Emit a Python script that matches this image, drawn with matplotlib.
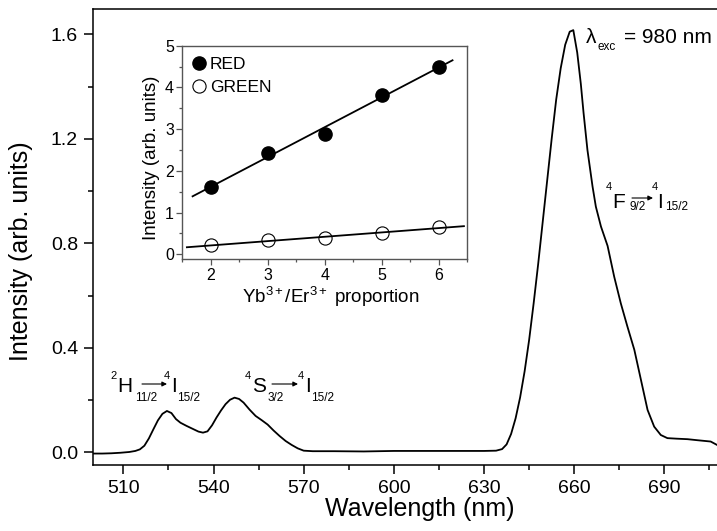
import numpy as np
import matplotlib
matplotlib.use("Agg")
import matplotlib.pyplot as plt
from matplotlib.ticker import MultipleLocator

plt.rcParams['font.family'] = ['Liberation Sans', 'DejaVu Sans']
plt.rcParams['mathtext.fontset'] = 'custom'
plt.rcParams['mathtext.rm'] = 'Liberation Sans'
plt.rcParams['mathtext.it'] = 'Liberation Sans:italic'
plt.rcParams['mathtext.bf'] = 'Liberation Sans:bold'

# espectro de upconversion
wavelength = [500, 503, 506, 509, 512, 514, 515.5, 517, 518.5, 520, 521.5, 523, 524.5,
              526, 527.5, 529, 531, 533, 535, 536.5, 538, 539.5, 541, 542.5, 544, 545.5,
              547, 548.5, 550, 552, 554, 556, 558, 560, 562, 564, 566, 568, 570, 573,
              580, 590, 600, 610, 620, 630, 634, 636, 637.5, 639, 640.5, 642, 643.5,
              645, 646.5, 648, 649.5, 651, 652.5, 654, 655.5, 657, 658.5, 659.7, 661,
              662.2, 663.1, 664.4, 666.1, 667.2, 668.9, 671.1, 673.3, 675.5, 677.7, 680,
              682.2, 684.4, 686.6, 688.8, 691, 694, 697.7, 701, 705.4, 707.5]
intensity = [-0.005, -0.005, -0.004, -0.002, 0.001, 0.005, 0.011, 0.025, 0.053, 0.088,
             0.122, 0.147, 0.158, 0.150, 0.127, 0.113, 0.101, 0.090, 0.079, 0.075, 0.080,
             0.103, 0.133, 0.160, 0.184, 0.201, 0.209, 0.204, 0.190, 0.163, 0.139, 0.123,
             0.106, 0.083, 0.062, 0.043, 0.028, 0.015, 0.006, 0.004, 0.004, 0.003, 0.005,
             0.005, 0.005, 0.005, 0.006, 0.012, 0.03, 0.07, 0.13, 0.21, 0.31, 0.43, 0.57,
             0.72, 0.88, 1.04, 1.20, 1.35, 1.47, 1.56, 1.61, 1.616, 1.53, 1.41, 1.30,
             1.157, 1.017, 0.94, 0.864, 0.79, 0.672, 0.570, 0.481, 0.392, 0.277, 0.162,
             0.098, 0.066, 0.054, 0.052, 0.050, 0.046, 0.041, 0.028]

# inset: intensidade vs proporcao Yb/Er
proportion = [2, 3, 4, 5, 6]
red = [1.62, 2.42, 2.89, 3.81, 4.50]
green = [0.22, 0.34, 0.38, 0.50, 0.66]

W, H = 717, 531
fig = plt.figure(figsize=(W / 100, H / 100), dpi=100)


def fx(x):
    return x / W


def fy(y):
    return 1 - y / H


ax = fig.add_axes([0.1301, 0.1252, 0.8699, 0.8579])
ax.plot(wavelength, intensity, color='black', lw=1.3)
ax.set_xlim(500, 707.5)
ax.set_ylim(-0.047, 1.697)
ax.spines['right'].set_visible(False)
for s in ['left', 'bottom', 'top']:
    ax.spines[s].set_linewidth(1.1)
ax.xaxis.set_minor_locator(MultipleLocator(15))
ax.set_xticks(np.arange(510, 700, 30))
ax.yaxis.set_major_locator(MultipleLocator(0.4))
ax.yaxis.set_minor_locator(MultipleLocator(0.2))
ax.yaxis.set_major_formatter(plt.FormatStrFormatter('%.1f'))
ax.tick_params(which='major', direction='out', length=6.5, width=1.1, labelsize=14, pad=4.5)
ax.tick_params(which='minor', direction='out', length=3.6, width=1.1)
ax.tick_params(top=False, right=False, which='both')
ax.set_xlabel('Wavelength (nm)', fontsize=18, va='top')
ax.xaxis.set_label_coords(0.524, -0.071)
ax.set_ylabel('Intensity (arb. units)', fontsize=18)
ax.yaxis.set_label_coords(-0.096, 0.469)

# rotulos das transicoes


def arrow(x1, x2, y):
    fig.add_artist(matplotlib.patches.FancyArrowPatch(
        (fx(x1), fy(y)), (fx(x2), fy(y)), transform=fig.transFigure,
        arrowstyle='-|>', mutation_scale=7, lw=0.8, color='black',
        shrinkA=0, shrinkB=0))


def level(xs, ys, xl, yl, xsub, ysub, sup, letter, sub):
    fig.text(fx(xs), fy(ys), sup, fontsize=8, va='top', ha='left')
    fig.text(fx(xl), fy(yl), letter, fontsize=15, va='baseline', ha='left')
    fig.text(fx(xsub), fy(ysub), sub, fontsize=8.5, va='baseline', ha='left')


# 2H11/2 -> 4I15/2
level(110, 371, 117, 392, 135, 401, '2', 'H', '11/2')
arrow(142, 167, 384)
level(164, 371, 171, 392, 177, 401, '4', 'I', '15/2')
# 4S3/2 -> 4I15/2
level(245, 371, 252, 392, 268, 401, '4', 'S', '3/2')
arrow(272, 298, 384)
level(298, 371, 305, 392, 311, 401, '4', 'I', '15/2')
# 4F9/2 -> 4I15/2
level(606, 182, 612, 208, 630, 210, '4', 'F', '9/2')
arrow(632, 653, 198)
level(652, 182, 657, 208, 665, 210, '4', 'I', '15/2')

fig.text(fx(586), fy(43), '\u03bb', fontsize=15, va='baseline', ha='left')
fig.text(fx(598), fy(50), 'exc', fontsize=8.5, va='baseline', ha='left')
fig.text(fx(624), fy(43), '= 980 nm', fontsize=15, va='baseline', ha='left')

# inset
ins = fig.add_axes([0.2543, 0.5117, 0.3975, 0.4023])
ins.plot(proportion, red, 'o', color='black', ms=9.5, label='RED')
ins.plot(proportion, green, 'o', mfc='white', mec='black', mew=0.8, ms=9.5, label='GREEN')
pr = np.polyfit(proportion, red, 1)
pg = np.polyfit(proportion, green, 1)
xr = np.array([1.68, 6.24])
xg = np.array([1.58, 6.44])
ins.plot(xr, np.polyval(pr, xr), color='black', lw=1.3)
ins.plot(xg, np.polyval(pg, xg), color='black', lw=1.3)
ins.set_xlim(1.5, 6.5)
ins.set_ylim(-0.12, 5.0)
ins.xaxis.set_major_locator(MultipleLocator(1))
ins.xaxis.set_minor_locator(MultipleLocator(0.5))
ins.yaxis.set_major_locator(MultipleLocator(1))
ins.yaxis.set_minor_locator(MultipleLocator(0.5))
for s in ins.spines.values():
    s.set_color('#555555')
    s.set_linewidth(1.0)
ins.tick_params(which='major', direction='out', length=4, width=0.9, labelsize=11.5, pad=2,
                color='#555555')
ins.tick_params(which='minor', direction='out', length=2.5, width=0.9, color='#555555')
ins.set_xlabel(r'Yb$^{3+}$/Er$^{3+}$ proportion', fontsize=13.5, va='top')
ins.xaxis.set_label_coords(0.52, -0.118)
ins.set_ylabel('Intensity (arb. units)', fontsize=13.5)
ins.yaxis.set_label_coords(-0.078, 0.477)
ins.legend(loc='upper left', frameon=False, fontsize=12.5, handlelength=0.6,
           handletextpad=0.35, borderaxespad=0.45, labelspacing=0.45, borderpad=0.2)

fig.savefig('out.png', dpi=100)
